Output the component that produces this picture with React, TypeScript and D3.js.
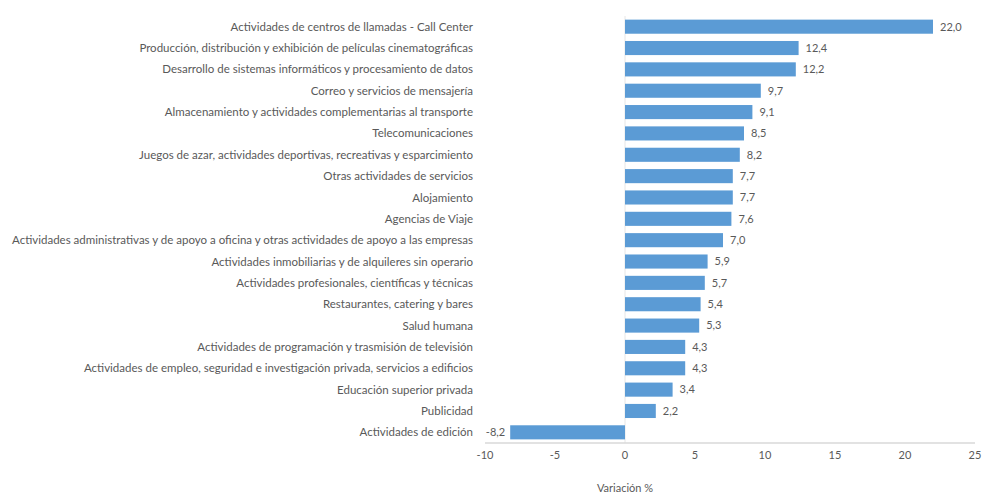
import React from "react";
import * as d3 from "d3";

const categories: string[] = [
  "Actividades de centros de llamadas - Call Center",
  "Producción, distribución y exhibición de películas cinematográficas",
  "Desarrollo de sistemas informáticos y procesamiento de datos",
  "Correo y servicios de mensajería",
  "Almacenamiento y actividades complementarias al transporte",
  "Telecomunicaciones",
  "Juegos de azar, actividades deportivas, recreativas y esparcimiento",
  "Otras actividades de servicios",
  "Alojamiento",
  "Agencias de Viaje",
  "Actividades administrativas y de apoyo a oficina y otras actividades de apoyo a las empresas",
  "Actividades inmobiliarias y de alquileres sin operario",
  "Actividades profesionales, científicas y técnicas",
  "Restaurantes, catering y bares",
  "Salud humana",
  "Actividades de programación y trasmisión de televisión",
  "Actividades de empleo, seguridad e investigación privada, servicios a edificios",
  "Educación superior privada",
  "Publicidad",
  "Actividades de edición",
];

const values: number[] = [22.0, 12.4, 12.2, 9.7, 9.1, 8.5, 8.2, 7.7, 7.7, 7.6, 7.0, 5.9, 5.7, 5.4, 5.3, 4.3, 4.3, 3.4, 2.2, -8.2];

const xTicks: number[] = [-10, -5, 0, 5, 10, 15, 20, 25];
const xTitle = "Variación %";

const W = 985;
const H = 493;
const plotLeft = 485;
const plotRight = 975;
const plotTop = 16;
const plotBottom = 443;
const font = "Lato, 'Open Sans', sans-serif";
const textColor = "#595959";
const barColor = "#5B9BD5";

export default function App() {
  const x = d3.scaleLinear().domain([-10, 25]).range([plotLeft, plotRight]);
  const y = d3.scaleBand<string>().domain(categories).range([plotTop, plotBottom]).paddingInner(0.34).paddingOuter(0.17);
  const fmt = (v: number) => d3.format(".1f")(v).replace(".", ",").replace("−", "-");
  const x0 = x(0);

  return (
    <div style={{ position: "absolute", left: 0, top: 0 }}>
      <svg width={W} height={H} style={{ display: "block", background: "#fff" }}>
        <line x1={x0} x2={x0} y1={plotTop} y2={plotBottom} stroke="#e6e6e6" strokeWidth={1} />
        <line x1={x(-10)} x2={x(25)} y1={plotBottom} y2={plotBottom} stroke="#d9d9d9" strokeWidth={1.5} />
        {categories.map((c, i) => {
          const v = values[i];
          const yy = y(c)!;
          const bw = y.bandwidth();
          const x1 = Math.min(x(v), x0);
          const w = Math.abs(x(v) - x0);
          return (
            <g key={c}>
              <rect x={x1} y={yy} width={w} height={bw} fill={barColor} />
              <text
                x={v >= 0 ? x(v) + 7 : x(v) - 5}
                y={yy + bw / 2}
                dy="0.35em"
                textAnchor={v >= 0 ? "start" : "end"}
                fontFamily={font}
                fontSize={11}
                fill={textColor}
              >
                {fmt(v)}
              </text>
              <text
                x={473}
                y={yy + bw / 2}
                dy="0.35em"
                textAnchor="end"
                fontFamily={font}
                fontSize={11.5}
                fill={textColor}
              >
                {c}
              </text>
            </g>
          );
        })}
        {xTicks.map((t) => (
          <text key={t} x={x(t)} y={455} dy="0.35em" textAnchor="middle" fontFamily={font} fontSize={11} fill={textColor}>
            {t}
          </text>
        ))}
        <text x={x(0)} y={488} dy="0.35em" textAnchor="middle" fontFamily={font} fontSize={11} fill={textColor}>
          {xTitle}
        </text>
      </svg>
    </div>
  );
}
